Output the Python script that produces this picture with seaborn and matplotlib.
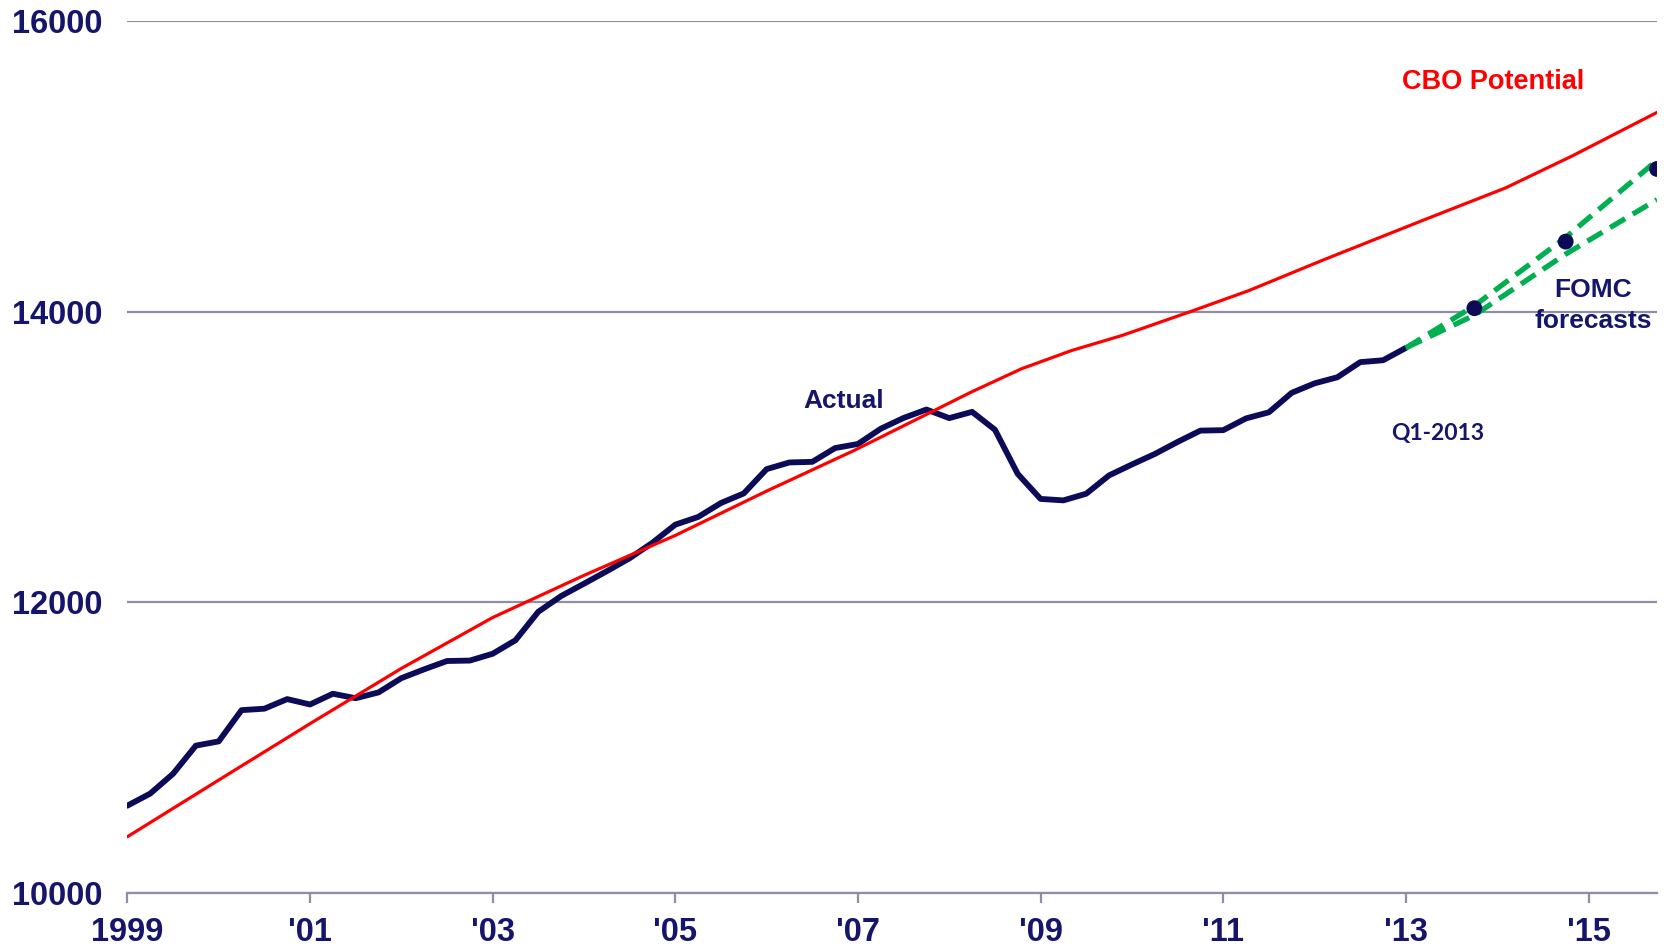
import matplotlib
matplotlib.use("Agg")
import matplotlib.pyplot as plt
import seaborn as sns
import pandas as pd

# Real GDP, billions of chained 2005 dollars, quarterly 1999Q1 - 2013Q1
actual_gdp = [
    10601, 10684, 10820, 11014,
    11043, 11258, 11268, 11334,
    11297, 11371, 11340, 11380,
    11478, 11539, 11596, 11599,
    11646, 11739, 11935, 12043,
    12128, 12214, 12303, 12410,
    12534, 12587, 12683, 12749,
    12916, 12962, 12966, 13061,
    13089, 13194, 13268, 13326,
    13267, 13310, 13187, 12883,
    12711, 12701, 12747, 12873,
    12948, 13020, 13103, 13181,
    13184, 13265, 13307, 13441,
    13506, 13548, 13652, 13665,
    13750,
]
quarters = pd.period_range("1999Q1", "2013Q1", freq="Q")

# CBO potential GDP
potential_x = [1999.0, 2000.0, 2001.0, 2002.0, 2003.0, 2004.0, 2005.0, 2006.0,
               2006.96, 2007.8, 2008.24, 2008.79, 2009.34, 2009.89, 2010.62,
               2011.28, 2012.08, 2013.18, 2014.09, 2014.82, 2015.75]
potential_gdp = [10387, 10777, 11165, 11545, 11895, 12185, 12460, 12765,
                 13045, 13308, 13446, 13606, 13732, 13835, 13995,
                 14144, 14351, 14626, 14850, 15070, 15370]

# FOMC forecast range and central points (Q4 of each year)
forecast_x = [2013.0, 2013.75, 2014.75, 2015.75]
forecast_high = [13750, 14040, 14510, 15040]
forecast_low = [13750, 13975, 14395, 14770]
dot_x = [2013.75, 2014.75, 2015.75]
dot_gdp = [14023, 14481, 14981]

year_ticks = [1999, 2001, 2003, 2005, 2007, 2009, 2011, 2013, 2015]
year_labels = ["1999", "'01", "'03", "'05", "'07", "'09", "'11", "'13", "'15"]
y_ticks = [10000, 12000, 14000, 16000]

navy = "#0B0B57"
text_navy = "#15156B"
grid_gray = "#8E8EA6"
green = "#00B050"

sns.set_theme(style="white")
plt.rcParams["font.family"] = ["Liberation Sans", "DejaVu Sans"]

actual_df = pd.DataFrame({
    "x": [q.year + (q.quarter - 1) / 4 for q in quarters],
    "gdp": actual_gdp,
})
potential_df = pd.DataFrame({"x": potential_x, "gdp": potential_gdp})
high_df = pd.DataFrame({"x": forecast_x, "gdp": forecast_high})
low_df = pd.DataFrame({"x": forecast_x, "gdp": forecast_low})
dots_df = pd.DataFrame({"x": dot_x, "gdp": dot_gdp})

fig = plt.figure(figsize=(16.65, 9.46), dpi=100)
ax = fig.add_axes([0.0765, 0.056, 0.9187, 0.922])

sns.lineplot(data=actual_df, x="x", y="gdp", ax=ax, color=navy, linewidth=4.2,
             sort=False, errorbar=None, zorder=3)
sns.lineplot(data=potential_df, x="x", y="gdp", ax=ax, color="#FF0000", linewidth=2.3,
             sort=False, errorbar=None, zorder=4)
for df in (high_df, low_df):
    sns.lineplot(data=df, x="x", y="gdp", ax=ax, color=green, linewidth=3.8,
                 linestyle=(0, (3.3, 1.7)), sort=False, errorbar=None, zorder=5)
sns.scatterplot(data=dots_df, x="x", y="gdp", ax=ax, color=navy, s=130,
                edgecolor="none", zorder=6)

ax.set_xlim(1999, 2015.75)
ax.set_ylim(10000, 16000)
ax.set_xticks(year_ticks)
ax.set_xticklabels(year_labels)
ax.set_yticks(y_ticks)
ax.set_xlabel("")
ax.set_ylabel("")

ax.yaxis.grid(True, color=grid_gray, linewidth=1.6)
ax.xaxis.grid(False)
for side in ("left", "right", "top"):
    ax.spines[side].set_visible(False)
ax.spines["bottom"].set_color(grid_gray)
ax.spines["bottom"].set_linewidth(1.6)
ax.set_axisbelow(True)

ax.tick_params(axis="x", direction="out", length=7, width=1.6, color=grid_gray,
               pad=10, labelsize=23.5, labelcolor=text_navy, bottom=True)
ax.tick_params(axis="y", length=0, pad=18, labelsize=23.5, labelcolor=text_navy)
for lab in ax.get_xticklabels() + ax.get_yticklabels():
    lab.set_fontweight("bold")

ax.text(2013.95, 15581, "CBO Potential", color="#FF0000", fontsize=19.5,
        fontweight="bold", ha="center", va="center")
ax.text(2006.84, 13388, "Actual", color=text_navy, fontsize=19,
        fontweight="bold", ha="center", va="center")
ax.text(2013.35, 13162, "Q1-2013", color=text_navy, fontsize=16.5,
        fontweight="bold", ha="center", va="center",
        family=["Lato", "DejaVu Sans"])
ax.text(2015.05, 14040, "FOMC\nforecasts", color=text_navy, fontsize=19,
        fontweight="bold", ha="center", va="center", linespacing=1.35)

fig.savefig("out.png", dpi=100)
